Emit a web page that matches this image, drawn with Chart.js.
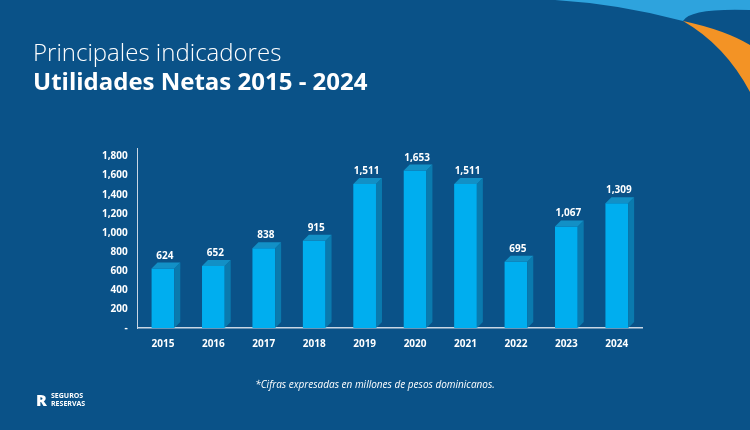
<!DOCTYPE html>
<html><head><meta charset="utf-8">
<script src="https://cdn.jsdelivr.net/npm/chart.js@4"></script>
<style>
body{margin:0;width:750px;height:430px;overflow:hidden;background:#0a5288;font-family:"Open Sans",sans-serif;color:#fff;position:relative}
#c{position:absolute;left:0;top:0}
.t1{position:absolute;left:33px;top:35px;font-size:24px;font-weight:300}
.t2{position:absolute;left:33px;top:64px;font-size:24px;font-weight:700}
.note{position:absolute;left:0;width:750px;top:377px;text-align:center;font-size:10px;font-style:italic}
.logo{position:absolute;left:36px;top:392px;font-size:7px;font-weight:700;line-height:8px;padding-left:15px}
.logo b{position:absolute;left:0;top:0;font-size:16px;line-height:16px}
</style></head><body>
<canvas id="c" width="750" height="430"></canvas>
<div class="t1">Principales indicadores</div>
<div class="t2">Utilidades Netas 2015 - 2024</div>
<div class="note">*Cifras expresadas en millones de pesos dominicanos.</div>
<div class="logo"><b>R</b>SEGUROS<br>RESERVAS</div>
<script>
const years = ['2015','2016','2017','2018','2019','2020','2021','2022','2023','2024'];
const utilidades = [624, 652, 838, 915, 1511, 1653, 1511, 695, 1067, 1309];
const yTicks = [0, 200, 400, 600, 800, 1000, 1200, 1400, 1600, 1800];

const ctx = document.getElementById('c').getContext('2d');

const decor = {
  id: 'decor',
  beforeDraw(chart) {
    const g = chart.ctx;
    g.save();
    g.fillStyle = '#2ea3dd';
    g.beginPath();
    g.moveTo(555, 0); g.lineTo(750, 0); g.lineTo(750, 10);
    g.quadraticCurveTo(690, 8, 683, 21);
    g.quadraticCurveTo(620, 4, 555, 0);
    g.fill();
    g.fillStyle = '#f39325';
    g.beginPath();
    g.moveTo(683, 21); g.quadraticCurveTo(725, 30, 750, 45);
    g.lineTo(750, 92); g.quadraticCurveTo(725, 45, 683, 21);
    g.fill();
    g.restore();
  },
  afterDatasetsDraw(chart) {
    const g = chart.ctx;
    const meta = chart.getDatasetMeta(0);
    g.save();
    meta.data.forEach((bar, i) => {
      const r = bar.x + bar.width / 2, l = bar.x - bar.width / 2, t = bar.y, b = bar.base;
      const d = 6;
      g.fillStyle = '#0a7aae';
      g.beginPath();
      g.moveTo(r, t); g.lineTo(r + d, t - d); g.lineTo(r + d, b - d); g.lineTo(r, b); g.fill();
      g.fillStyle = '#1290c6';
      g.beginPath();
      g.moveTo(l, t); g.lineTo(l + d, t - d); g.lineTo(r + d, t - d); g.lineTo(r, t); g.fill();
      g.fillStyle = '#fff';
      g.font = 'bold 10px "Open Sans"';
      g.textAlign = 'center';
      g.fillText(utilidades[i].toLocaleString('en-US'), bar.x + 2, t - 10);
    });
    g.restore();
  }
};

new Chart(ctx, {
  type: 'bar',
  data: { labels: years, datasets: [{ data: utilidades, backgroundColor: '#00aeef', barPercentage: 0.45, categoryPercentage: 1 }] },
  options: {
    responsive: false, animation: false,
    layout: { padding: { left: 92, right: 108, top: 148, bottom: 70 } },
    plugins: { legend: { display: false }, tooltip: { enabled: false } },
    scales: {
      x: {
        grid: { display: false, drawTicks: false },
        border: { color: '#c8d6e4', width: 1.5 },
        ticks: { color: '#fff', font: { family: 'Open Sans', weight: 'bold', size: 10 }, padding: 10 }
      },
      y: {
        min: 0, max: 1890,
        afterBuildTicks(axis) { axis.ticks = yTicks.map(v => ({ value: v })); },
        grid: { display: false, drawTicks: false },
        border: { color: '#c8d6e4', width: 1 },
        ticks: { color: '#fff', font: { family: 'Open Sans', weight: 'bold', size: 10 }, padding: 10,
          callback: v => v === 0 ? '-' : v.toLocaleString('en-US') }
      }
    }
  },
  plugins: [decor]
});
</script>
</body></html>
